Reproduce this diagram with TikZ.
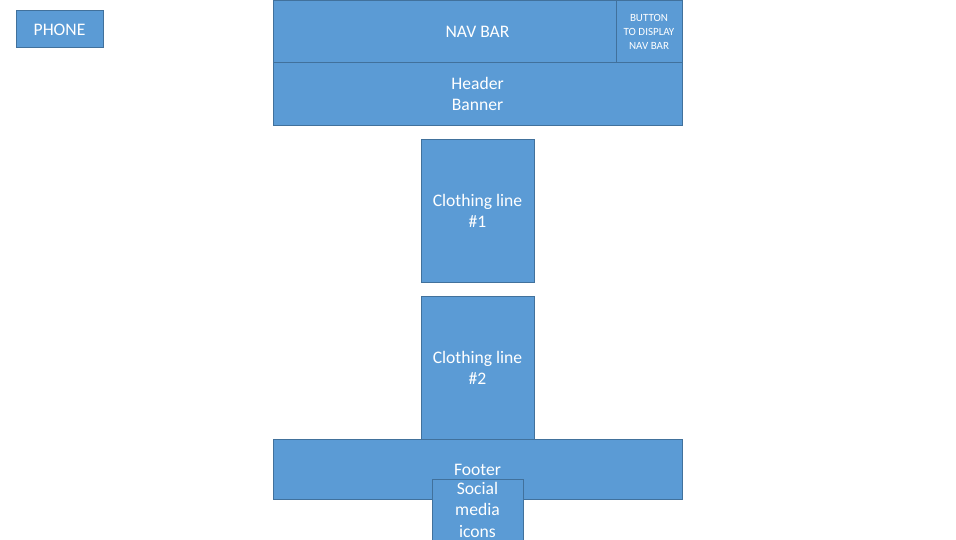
\documentclass[tikz,border=0pt]{standalone}
\usepackage{fontspec}
\setmainfont{Carlito}
\definecolor{boxfill}{HTML}{5B9BD5}
\definecolor{boxline}{HTML}{41719C}
\begin{document}
\begin{tikzpicture}[x=1pt,y=-1pt,
  blk/.style={fill=boxfill,draw=boxline,line width=0.8pt},
  lbl/.style={text=white,align=center,inner sep=0pt,font=\fontsize{17.6}{21.5}\selectfont},
  small/.style={text=white,align=center,inner sep=0pt,font=\fontsize{11}{14}\selectfont}]
\useasboundingbox (0,0) rectangle (956,540);
\fill[white] (0,0) rectangle (956,540);
% phone
\draw[blk] (16,10) rectangle (103,47);
\node[lbl] (phone) at (59.5,29.5) {PHONE};
% nav bar
\draw[blk] (273,0) rectangle (682,62);
\node[lbl] (nav) at (477.5,31.5) {NAV BAR};
\draw[blk] (616,0) rectangle (682,62);
\node[small] (btn) at (649,31.5) {BUTTON\\TO DISPLAY\\NAV BAR};
% header
\draw[blk] (273,62) rectangle (682,125);
\node[lbl] (hdr) at (477.5,94) {Header\\Banner};
% clothing lines
\draw[blk] (421,139) rectangle (534,282);
\node[lbl] (c1) at (477.5,211) {Clothing line\\\#1};
\draw[blk] (421,296) rectangle (534,440);
\node[lbl] (c2) at (477.5,368) {Clothing line\\\#2};
% footer
\draw[blk] (273,439) rectangle (682,499);
\node[lbl] (ftr) at (477.5,470) {Footer};
\draw[blk] (432,479) rectangle (523,542);
\node[lbl] (soc) at (477.5,509.5) {Social\\media\\icons};
\end{tikzpicture}
\end{document}
